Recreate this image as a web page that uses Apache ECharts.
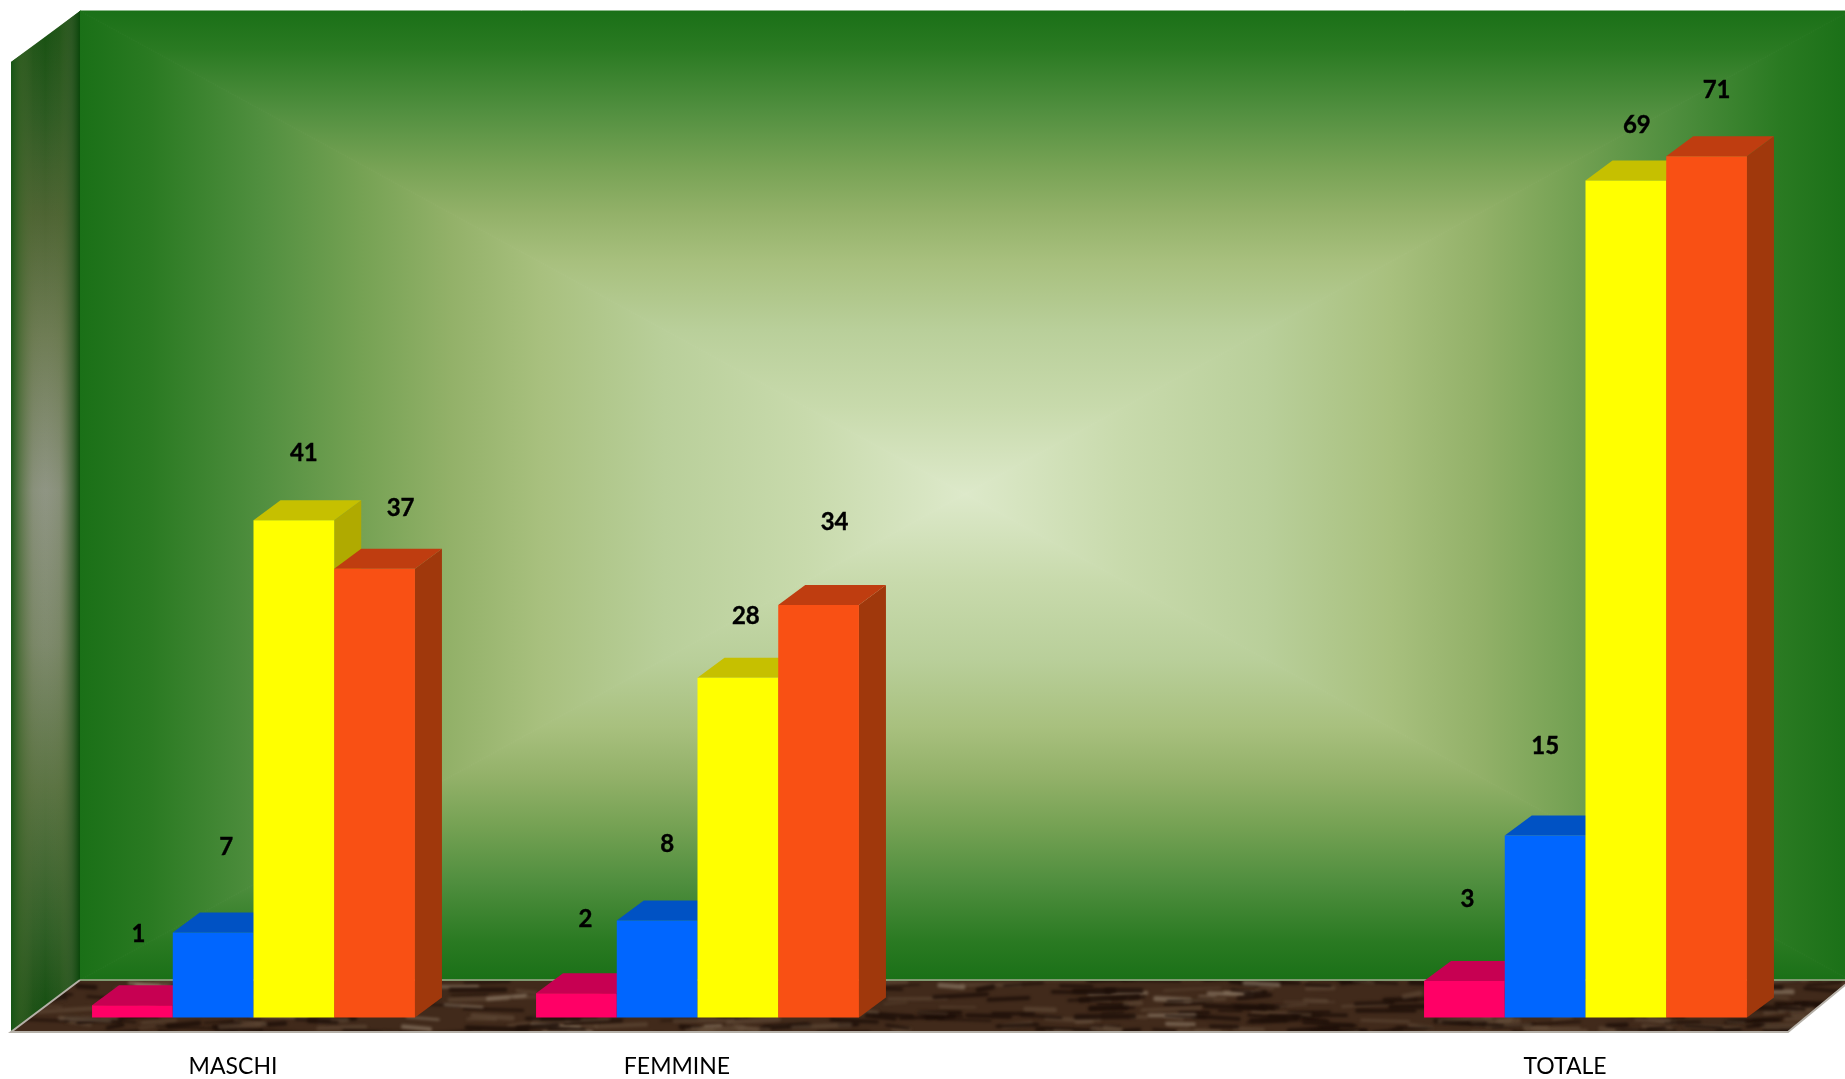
<!DOCTYPE html>
<html>
<head>
<meta charset="utf-8">
<title>Chart</title>
<style>
html,body{margin:0;padding:0;background:#fff;overflow:hidden}
#main{width:1845px;height:1079px}
</style>
<script src="https://cdn.jsdelivr.net/npm/echarts@6/dist/echarts.min.js"></script>
</head>
<body>
<div id="main"></div>
<script>
// ---- data ----
const categories = ['MASCHI', 'FEMMINE', '', 'TOTALE'];
const seriesA = [1, 2, null, 3];
const seriesB = [7, 8, null, 15];
const seriesC = [41, 28, null, 69];
const seriesD = [37, 34, null, 71];

// ---- styling: where each value label sits relative to its bar top centre ----
const shiftA = [[6, -71], [9, -74], null, [3, -82]];
const shiftB = [[13, -85], [10, -76], null, [0, -89]];
const shiftC = [[10, -67], [8, -62], null, [11, -55]];
const shiftD = [[26, -60], [16, -83], null, [10, -66]];

const facesA = { front: '#ff0066', top: '#c70052', side: '#a80046' };
const facesB = { front: '#0066ff', top: '#0052c4', side: '#0044a0' };
const facesC = { front: '#ffff00', top: '#c6c000', side: '#b0aa00' };
const facesD = { front: '#f95014', top: '#bf3d10', side: '#a0380c' };

const FONT = 'Lato, "Open Sans", sans-serif';
const DEPTH_X = 27, DEPTH_Y = -20;   // oblique depth of every bar
const BAND_RATIO = 2 / 11;           // bar width as share of the category band
const FRONT_SHIFT = 20.5;            // bars sit to the right of their label

function barRenderer(index, faces, shifts) {
  return function (params, api) {
    const v = api.value(1);
    if (v == null || isNaN(v)) return null;
    const cat = api.value(0);
    const base = api.coord([cat, 0]);
    const top = api.coord([cat, v]);
    const w = api.size([1, 0])[0] * BAND_RATIO;
    const x0 = base[0] + FRONT_SHIFT + (index - 2) * w;
    const x1 = x0 + w;
    const y0 = base[1], y1 = top[1];
    const z = (index + 1) * 10;
    const s = shifts[params.dataIndex] || [0, 0];
    return {
      type: 'group',
      children: [
        { type: 'polygon', z2: z,
          shape: { points: [[x1, y0], [x1 + DEPTH_X, y0 + DEPTH_Y], [x1 + DEPTH_X, y1 + DEPTH_Y], [x1, y1]] },
          style: { fill: faces.side } },
        { type: 'polygon', z2: z,
          shape: { points: [[x0, y1], [x1, y1], [x1 + DEPTH_X, y1 + DEPTH_Y], [x0 + DEPTH_X, y1 + DEPTH_Y]] },
          style: { fill: faces.top } },
        { type: 'rect', z2: z,
          shape: { x: x0, y: y1, width: w, height: y0 - y1 },
          style: { fill: faces.front } },
        { type: 'text', z2: 200,
          style: { x: (x0 + x1) / 2 + s[0], y: y1 + s[1], text: String(v), fill: '#000',
                   stroke: '#000', lineWidth: 0.4,
                   font: 'bold 24px ' + FONT, align: 'center', verticalAlign: 'middle' } }
      ]
    };
  };
}

function makeSeries(name, values, index, faces, shifts) {
  return {
    name: name, type: 'custom', coordinateSystem: 'cartesian2d', clip: false,
    encode: { x: 0, y: 1 },
    data: values.map((v, i) => [i, v]),
    renderItem: barRenderer(index, faces, shifts),
    animation: false, silent: true
  };
}

// ---- decoration: wall and floor ----
const WALL = { l: 80, t: 11, r: 1850, b: 980 };
const CENTER = [965, 494];
const wallStops = [
  [0, '#1a7017'], [0.08, '#2a7a22'], [0.2, '#4f8e3e'], [0.32, '#76a254'],
  [0.42, '#93b169'], [0.52, '#a8c07e'], [0.66, '#b9cf9a'], [0.82, '#c8daac'], [1, '#dde9ca']
];
function grad(horizontal, reversed) {
  return {
    type: 'linear', x: 0, y: 0, x2: horizontal ? 1 : 0, y2: horizontal ? 0 : 1,
    colorStops: wallStops.map(s => ({ offset: reversed ? 1 - s[0] : s[0], color: s[1] }))
      .sort((a, b) => a.offset - b.offset)
  };
}
function tri(a, b, fill) {
  return { type: 'polygon', silent: true, shape: { points: [a, b, CENTER] },
           style: { fill: fill, stroke: fill, lineWidth: 1 } };
}
const TL = [WALL.l, WALL.t], TR = [WALL.r, WALL.t], BR = [WALL.r, WALL.b], BL = [WALL.l, WALL.b];

// floor marble texture: one untiled sheet the size of the page
function marble() {
  const c = document.createElement('canvas');
  c.width = 1845; c.height = 1079;
  const g = c.getContext('2d');
  g.fillStyle = '#412a1b'; g.fillRect(0, 960, 1845, 90);
  let h = 12345;
  const next = () => (h = (h * 1103515245 + 12345) % 2147483648) / 2147483648;
  g.filter = 'blur(1.6px)';
  g.lineCap = 'round';
  for (let i = 0; i < 480; i++) {
    const x = next() * 1845, y = 975 + next() * 60, l = 14 + next() * 46, t = next();
    g.strokeStyle = t < 0.5 ? 'rgba(28,14,7,0.8)' : t < 0.88 ? 'rgba(105,84,64,0.5)' : 'rgba(150,132,112,0.6)';
    g.lineWidth = 1.5 + next() * 4;
    g.beginPath(); g.moveTo(x, y); g.lineTo(x + l, y + (next() - 0.5) * 7); g.stroke();
  }
  g.filter = 'none';
  return c;
}

const decoration = [
  tri(TL, TR, grad(false, false)),
  tri(BL, BR, grad(false, true)),
  tri(TL, BL, grad(true, false)),
  tri(TR, BR, grad(true, true)),
  // side wall
  { type: 'polygon', silent: true,
    shape: { points: [[11, 62], [80, 11], [80, 980], [11, 1032]] },
    style: { fill: { type: 'linear', x: 0, y: 0, x2: 0, y2: 1, colorStops: [
      { offset: 0, color: '#14500f' }, { offset: 0.1, color: '#2b5a20' }, { offset: 0.2, color: '#4d6432' },
      { offset: 0.32, color: '#6f7d55' }, { offset: 0.47, color: '#8f9583' }, { offset: 0.62, color: '#7e8a6c' },
      { offset: 0.76, color: '#5b7443' }, { offset: 0.9, color: '#2f5f25' }, { offset: 1, color: '#0f4a0c' }
    ] } } },
  { type: 'polygon', silent: true,
    shape: { points: [[11, 62], [80, 11], [80, 980], [11, 1032]] },
    style: { fill: { type: 'linear', x: 0, y: 0, x2: 1, y2: 0, colorStops: [
      { offset: 0, color: 'rgba(20,85,20,0.95)' }, { offset: 0.14, color: 'rgba(60,100,40,0.6)' },
      { offset: 0.32, color: 'rgba(90,110,60,0.12)' }, { offset: 0.5, color: 'rgba(120,125,100,0)' },
      { offset: 0.7, color: 'rgba(90,110,60,0.15)' }, { offset: 0.88, color: 'rgba(50,90,40,0.7)' },
      { offset: 1, color: 'rgba(10,70,10,1)' }
    ] } } },
  // floor
  { type: 'polygon', silent: true,
    shape: { points: [[11, 1032], [80, 980], [1850, 980], [1788, 1032]] },
    style: { fill: { image: marble(), repeat: 'no-repeat' } } },
  { type: 'polyline', silent: true, shape: { points: [[80, 980], [1845, 980]] },
    style: { fill: null, stroke: '#7f9a70', lineWidth: 2 } },
  { type: 'polyline', silent: true, shape: { points: [[80, 980], [11, 1032], [1788, 1032], [1845, 985]] },
    style: { fill: null, stroke: '#b5b0a8', lineWidth: 2 } }
];

const chart = echarts.init(document.getElementById('main'), null, { renderer: 'canvas' });
chart.setOption({
  animation: false,
  backgroundColor: '#ffffff',
  graphic: { elements: decoration },
  grid: { left: 11, width: 1776, top: 47.1, bottom: 61.5, containLabel: false },
  xAxis: {
    type: 'category', data: categories,
    axisLine: { show: false }, axisTick: { show: false }, splitLine: { show: false },
    axisLabel: { margin: 38, color: '#000', fontFamily: FONT, fontSize: 23, interval: 0 }
  },
  yAxis: { type: 'value', min: 0, max: 80, show: false, splitLine: { show: false } },
  series: [
    makeSeries('A', seriesA, 0, facesA, shiftA),
    makeSeries('B', seriesB, 1, facesB, shiftB),
    makeSeries('C', seriesC, 2, facesC, shiftC),
    makeSeries('D', seriesD, 3, facesD, shiftD)
  ]
});
</script>
</body>
</html>
